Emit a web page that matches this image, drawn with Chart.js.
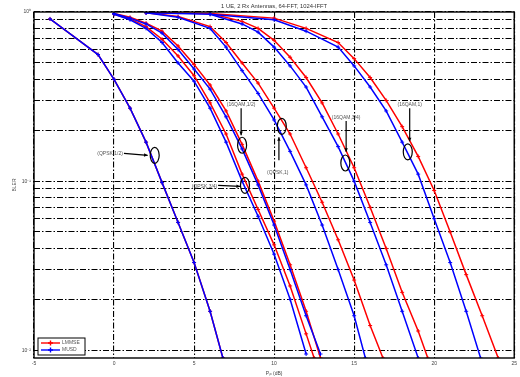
<!DOCTYPE html>
<html><head><meta charset="utf-8">
<script src="https://cdn.jsdelivr.net/npm/chart.js@4/dist/chart.umd.min.js"></script>
<style>html,body{margin:0;padding:0;background:#fff}#wrap{width:520px;height:377px}</style>
</head><body><div id="wrap"><canvas id="c" width="520" height="377"></canvas></div>
<script>
const titleText = '1 UE, 2 Rx Antennas, 64-FFT, 1024-IFFT';
const xTitle = 'P\u209C\u2093 (dB)';
const yTitle = 'BLER';
const xTicks = [-5, 0, 5, 10, 15, 20, 25];
const yTicks = [0.01,0.02,0.03,0.04,0.05,0.06,0.07,0.08,0.09,0.1,0.2,0.3,0.4,0.5,0.6,0.7,0.8,0.9,1];
const legendLabels = ['LMMSE', 'MUSD'];

// QPSK 1/2
const qpsk12X      = [-4, -1, 0, 1, 2, 3, 4, 5, 6, 6.8];
const qpsk12Lin    = [0.91, 0.56, 0.40, 0.27, 0.17, 0.098, 0.057, 0.033, 0.017, 0.009];
const qpsk12Musd   = [0.91, 0.56, 0.40, 0.27, 0.17, 0.098, 0.057, 0.033, 0.017, 0.009];
// QPSK 3/4
const qpsk34X      = [0, 1, 2, 3, 4, 5, 6, 7, 8, 9, 10, 11, 12, 12.5];
const qpsk34Lin    = [0.97, 0.91, 0.82, 0.69, 0.55, 0.42, 0.29, 0.19, 0.11, 0.068, 0.042, 0.024, 0.0125, 0.009];
const qpsk34MusdX  = [0, 1, 2, 3, 4, 5, 6, 7, 8, 9, 10, 11, 12];
const qpsk34Musd   = [0.97, 0.9, 0.8, 0.66, 0.5, 0.39, 0.27, 0.17, 0.1, 0.062, 0.037, 0.02, 0.0095];
// 16QAM 1/2
const qam12X       = [0, 1, 2, 3, 4, 5, 6, 7, 8, 9, 10, 11, 12, 12.9];
const qam12Lin     = [0.98, 0.93, 0.86, 0.77, 0.63, 0.49, 0.37, 0.26, 0.165, 0.1, 0.058, 0.032, 0.017, 0.009];
const qam12Musd    = [0.98, 0.92, 0.85, 0.75, 0.6, 0.46, 0.35, 0.24, 0.155, 0.095, 0.055, 0.03, 0.016, 0.0095];
// QPSK 1
const qpsk1X       = [2, 4, 6, 7, 8, 9, 10, 11, 12, 13, 14, 15, 16, 16.8];
const qpsk1Lin     = [0.99, 0.94, 0.82, 0.66, 0.5, 0.38, 0.27, 0.19, 0.12, 0.075, 0.045, 0.026, 0.014, 0.009];
const qpsk1MusdX   = [2, 4, 6, 7, 8, 9, 10, 11, 12, 13, 14, 15, 15.7];
const qpsk1Musd    = [0.99, 0.93, 0.8, 0.62, 0.45, 0.33, 0.23, 0.15, 0.095, 0.055, 0.03, 0.016, 0.009];
// 16QAM 3/4
const qam34X       = [6, 8, 9, 10, 11, 12, 13, 14, 15, 16, 17, 18, 19, 19.6];
const qam34Lin     = [0.98, 0.88, 0.8, 0.68, 0.54, 0.41, 0.29, 0.19, 0.12, 0.07, 0.04, 0.022, 0.013, 0.009];
const qam34MusdX   = [6, 8, 9, 10, 11, 12, 13, 14, 15, 16, 17, 18, 19];
const qam34Musd    = [0.97, 0.85, 0.76, 0.62, 0.48, 0.36, 0.24, 0.16, 0.1, 0.057, 0.032, 0.017, 0.009];
// 16QAM 1
const qam1X        = [2, 6, 10, 12, 14, 15, 16, 17, 18, 19, 20, 21, 22, 23, 24];
const qam1Lin      = [0.99, 0.98, 0.92, 0.8, 0.66, 0.53, 0.41, 0.3, 0.21, 0.14, 0.088, 0.05, 0.028, 0.016, 0.009];
const qam1MusdX    = [2, 6, 10, 12, 14, 15, 16, 17, 18, 19, 20, 21, 22, 22.9];
const qam1Musd     = [0.99, 0.97, 0.9, 0.77, 0.62, 0.48, 0.36, 0.26, 0.17, 0.11, 0.06, 0.033, 0.017, 0.009];

// annotations: label, text anchor [x,y], ellipse centre [x,y], pointer start/end, text alignment
const annLabels = ['(QPSK,1/2)', '(QPSK,3/4)', '(16QAM,1/2)', '(QPSK,1)', '(16QAM,3/4)', '(16QAM,1)'];
const annText   = [[0.55, 0.146], [6.45, 0.093], [7.94, 0.285], [10.23, 0.113], [14.5, 0.239], [18.47, 0.285]];
const annAlign  = ['right', 'right', 'center', 'center', 'center', 'center'];
const annEll    = [[2.54, 0.142], [8.18, 0.0945], [8.0, 0.163], [10.48, 0.211], [14.45, 0.128], [18.35, 0.149]];
const annFrom   = [[0.62, 0.146], [6.5, 0.0945], [7.94, 0.27], [10.3, 0.133], [14.5, 0.227], [18.47, 0.27]];
const annTo     = [[2.1, 0.142], [7.87, 0.093], [7.94, 0.187], [10.3, 0.182], [14.5, 0.149], [18.47, 0.172]];

const RED = '#ff0000', BLUE = '#0000ff';
function pts(xs, ys) { return xs.map((x, i) => ({x: x, y: ys[i]})); }
function ds(label, xs, ys, color, order) {
  return {label: label, data: pts(xs, ys), borderColor: color, backgroundColor: color,
    borderWidth: 1.5, pointStyle: 'cross', pointRadius: 2, pointBorderWidth: 1,
    pointBorderColor: color, tension: 0, order: order, fill: false};
}
const datasets = [
  ds(legendLabels[0], qpsk12X, qpsk12Lin, RED, 1),
  ds(legendLabels[1], qpsk12X, qpsk12Musd, BLUE, 0),
  ds(legendLabels[0], qpsk34X, qpsk34Lin, RED, 1),
  ds(legendLabels[1], qpsk34MusdX, qpsk34Musd, BLUE, 0),
  ds(legendLabels[0], qam12X, qam12Lin, RED, 1),
  ds(legendLabels[1], qam12X, qam12Musd, BLUE, 0),
  ds(legendLabels[0], qpsk1X, qpsk1Lin, RED, 1),
  ds(legendLabels[1], qpsk1MusdX, qpsk1Musd, BLUE, 0),
  ds(legendLabels[0], qam34X, qam34Lin, RED, 1),
  ds(legendLabels[1], qam34MusdX, qam34Musd, BLUE, 0),
  ds(legendLabels[0], qam1X, qam1Lin, RED, 1),
  ds(legendLabels[1], qam1MusdX, qam1Musd, BLUE, 0)
];

const FONT = '"Liberation Sans", Arial, sans-serif';
const decadeLabel = {1: '10\u2070', 0.1: '10\u207B\u00B9', 0.01: '10\u207B\u00B2'};

const deco = {
  id: 'deco',
  afterDatasetsDraw(chart) {
    const ctx = chart.ctx, a = chart.chartArea, xs = chart.scales.x, ys = chart.scales.y;
    ctx.save();
    // frame
    ctx.strokeStyle = '#000'; ctx.lineWidth = 1.4; ctx.setLineDash([]);
    ctx.strokeRect(a.left, a.top, a.right - a.left, a.bottom - a.top);
    // title
    ctx.fillStyle = '#333'; ctx.font = '5.8px ' + FONT; ctx.textAlign = 'center'; ctx.textBaseline = 'middle';
    ctx.fillText(titleText, (a.left + a.right) / 2, 6);
    // annotations
    ctx.font = '5px ' + FONT; ctx.lineWidth = 1.2; ctx.strokeStyle = '#000';
    for (let i = 0; i < annLabels.length; i++) {
      const ex = xs.getPixelForValue(annEll[i][0]), ey = ys.getPixelForValue(annEll[i][1]);
      ctx.beginPath(); ctx.ellipse(ex, ey, 4.5, 8, 0, 0, Math.PI * 2); ctx.stroke();
      const fx = xs.getPixelForValue(annFrom[i][0]), fy = ys.getPixelForValue(annFrom[i][1]);
      const tx = xs.getPixelForValue(annTo[i][0]), ty = ys.getPixelForValue(annTo[i][1]);
      ctx.beginPath(); ctx.moveTo(fx, fy); ctx.lineTo(tx, ty); ctx.stroke();
      const ang = Math.atan2(ty - fy, tx - fx);
      ctx.beginPath(); ctx.moveTo(tx, ty);
      ctx.lineTo(tx - 4 * Math.cos(ang - 0.45), ty - 4 * Math.sin(ang - 0.45));
      ctx.lineTo(tx - 4 * Math.cos(ang + 0.45), ty - 4 * Math.sin(ang + 0.45));
      ctx.closePath(); ctx.fillStyle = '#000'; ctx.fill();
      ctx.fillStyle = '#555'; ctx.textAlign = annAlign[i]; ctx.textBaseline = 'middle';
      ctx.fillText(annLabels[i], xs.getPixelForValue(annText[i][0]), ys.getPixelForValue(annText[i][1]));
    }
    // legend
    const lx = a.left + 4, ly = a.bottom - 20, lw = 47, lh = 17;
    ctx.fillStyle = '#fff'; ctx.fillRect(lx, ly, lw, lh);
    ctx.strokeStyle = '#000'; ctx.lineWidth = 1; ctx.strokeRect(lx, ly, lw, lh);
    const cols = [RED, BLUE];
    for (let k = 0; k < 2; k++) {
      const yy = ly + 5 + k * 7;
      ctx.strokeStyle = cols[k]; ctx.lineWidth = 1.4;
      ctx.beginPath(); ctx.moveTo(lx + 3, yy); ctx.lineTo(lx + 22, yy); ctx.stroke();
      ctx.beginPath(); ctx.moveTo(lx + 12.5, yy - 2.5); ctx.lineTo(lx + 12.5, yy + 2.5);
      ctx.moveTo(lx + 10, yy); ctx.lineTo(lx + 15, yy); ctx.stroke();
      ctx.fillStyle = '#555'; ctx.textAlign = 'left'; ctx.textBaseline = 'middle'; ctx.font = '5px ' + FONT;
      ctx.fillText(legendLabels[k], lx + 24, yy);
    }
    ctx.restore();
  }
};

new Chart(document.getElementById('c'), {
  type: 'line',
  data: {datasets: datasets},
  options: {
    responsive: false, animation: false, devicePixelRatio: 1,
    layout: {padding: {top: 12, right: 2, left: 12, bottom: 0}},
    plugins: {legend: {display: false}, tooltip: {enabled: false}, title: {display: false}},
    scales: {
      x: {
        type: 'linear', min: -5, max: 25,
        afterBuildTicks: s => { s.ticks = xTicks.map(v => ({value: v})); },
        afterFit: s => { s.height = 19; },
        grid: {color: '#000', lineWidth: 1.1, drawTicks: false},
        border: {display: false, dash: [6, 2, 1.5, 2]},
        ticks: {font: {size: 5, family: FONT}, color: '#444', padding: 3, maxRotation: 0},
        title: {display: true, text: xTitle, font: {size: 5, family: FONT}, color: '#444', padding: 0}
      },
      y: {
        type: 'logarithmic', min: 0.009, max: 1,
        afterBuildTicks: s => { s.ticks = yTicks.map(v => ({value: v})); },
        afterFit: s => { s.width = 22; },
        grid: {color: '#000', lineWidth: 1.1, drawTicks: false},
        border: {display: false, dash: [6, 2, 1.5, 2]},
        ticks: {font: {size: 5, family: FONT}, color: '#444', padding: 3, autoSkip: false,
          callback: v => decadeLabel[v] || ''},
        title: {display: true, text: yTitle, font: {size: 5, family: FONT}, color: '#444', padding: 0}
      }
    }
  },
  plugins: [deco]
});
</script>
</body></html>
